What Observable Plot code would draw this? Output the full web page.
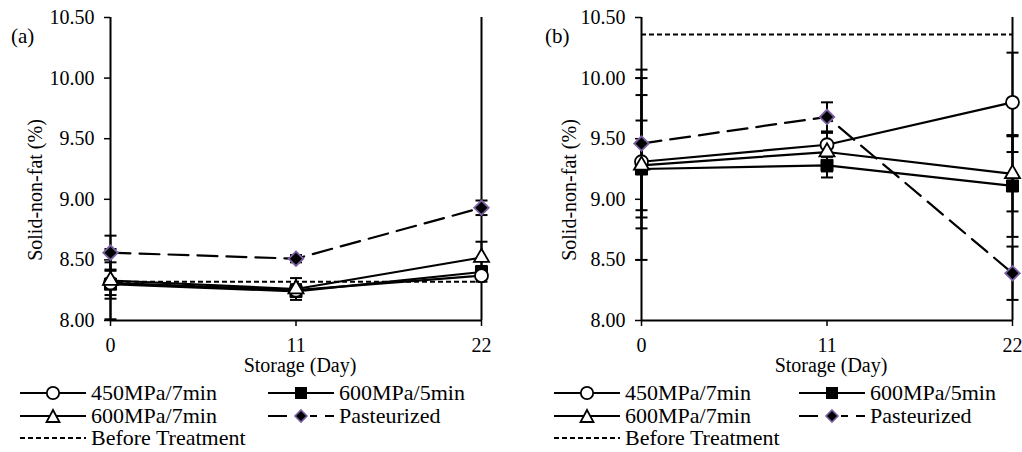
<!DOCTYPE html>
<html>
<head>
<meta charset="utf-8">
<script src="https://cdn.jsdelivr.net/npm/d3@7"></script>
<script src="https://cdn.jsdelivr.net/npm/@observablehq/plot@0.6"></script>
<style>
  body { margin: 0; background: #fff; }
  #wrap { position: relative; width: 1022px; height: 452px; overflow: hidden; font-family: "Liberation Serif", "Times New Roman", Tinos, serif; color: #000; }
  .panel { position: absolute; top: 0; }
  .plab { position: absolute; font-size: 21px; line-height: 1; }
  .leg { position: absolute; display: flex; align-items: center; font-size: 22px; line-height: 20px; height: 20px; white-space: nowrap; }
  .leg svg { display: block; margin-right: 5px; }
</style>
</head>
<body>
<div id="wrap"></div>
<script>
// ---------- data ----------
const days = [0, 11, 22];
const seriesNames = ["450MPa/7min", "600MPa/5min", "600MPa/7min", "Pasteurized"];
const yTicks = [8.00, 8.50, 9.00, 9.50, 10.00, 10.50];
const xTitle = "Storage (Day)";
const yTitle = "Solid-non-fat (%)";

// Panel (a)
const a_450_7 = [8.31, 8.25, 8.37];
const a_600_5 = [8.30, 8.24, 8.40];
const a_600_7 = [8.33, 8.26, 8.52];
const a_past  = [8.56, 8.51, 8.93];
const a_450_7_sd = [0.10, 0.05, 0.05];
const a_600_5_sd = [0.29, 0.04, 0.05];
const a_600_7_sd = [0.15, 0.09, 0.13];
const a_past_sd  = [0.14, 0.03, 0.06];
const a_before = 8.32;

// Panel (b)
const b_450_7 = [9.31, 9.45, 9.80];
const b_600_5 = [9.25, 9.28, 9.11];
const b_600_7 = [9.28, 9.39, 9.21];
const b_past  = [9.46, 9.68, 8.39];
const b_450_7_sd = [0.55, 0.10, 0.41];
const b_600_5_sd = [0.75, 0.10, 0.42];
const b_600_7_sd = [0.37, 0.16, 0.31];
const b_past_sd  = [0.61, 0.12, 0.22];
const b_before = 10.36;

const purple = "#7b62a3";
const FONT = "'Liberation Serif', 'Times New Roman', Tinos, serif";

function table(vals, sds) {
  const rows = [];
  seriesNames.forEach((s, i) => {
    days.forEach((d, j) => rows.push({series: s, day: d, v: vals[i][j], lo: vals[i][j] - sds[i][j], hi: vals[i][j] + sds[i][j]}));
  });
  return rows;
}

const capSymbol = {
  draw(ctx, size) { ctx.moveTo(-6, 0); ctx.lineTo(6, 0); }
};

function panel(vals, sds, before, mLeft, mRight, yDx) {
  const rows = table(vals, sds);
  const S = s => rows.filter(r => r.series === s);
  return Plot.plot({
    width: 511,
    height: 380,
    marginTop: 17,
    marginBottom: 60,
    marginLeft: mLeft,
    marginRight: mRight,
    style: {fontFamily: FONT, fontSize: "20px", color: "#000", background: "#fff", overflow: "visible"},
    x: {domain: [0, 22]},
    y: {domain: [8, 10.5]},
    marks: [
      Plot.axisX({ticks: days, tickFormat: d3.format("d"), tickSize: 6, tickPadding: 11, strokeWidth: 1.5, label: null, fontSize: 20}),
      Plot.axisY({ticks: yTicks, tickFormat: d3.format(".2f"), tickSize: 6, tickPadding: 10, strokeWidth: 1.5, label: null, fontSize: 20}),
      Plot.text([xTitle], {frameAnchor: "bottom", lineAnchor: "middle", textAnchor: "middle", dy: 45, dx: 4, fontSize: 20, fill: "#000"}),
      Plot.text([yTitle], {frameAnchor: "left", rotate: -90, textAnchor: "middle", lineAnchor: "middle", dx: yDx, dy: 21, fontSize: 20, fill: "#000"}),
      Plot.ruleY([before], {stroke: "#000", strokeWidth: 2, strokeDasharray: "5,3"}),
      Plot.ruleX([22], {stroke: "#000", strokeWidth: 2}),
      // error bars
      Plot.ruleX(rows, {x: "day", y1: "lo", y2: "hi", stroke: "#000", strokeWidth: 2}),
      Plot.dot(rows, {x: "day", y: "lo", symbol: capSymbol, stroke: "#000", strokeWidth: 2, fill: "none"}),
      Plot.dot(rows, {x: "day", y: "hi", symbol: capSymbol, stroke: "#000", strokeWidth: 2, fill: "none"}),
      // lines
      Plot.line(S("450MPa/7min"), {x: "day", y: "v", stroke: "#000", strokeWidth: 2.2}),
      Plot.line(S("600MPa/5min"), {x: "day", y: "v", stroke: "#000", strokeWidth: 2.2}),
      Plot.line(S("600MPa/7min"), {x: "day", y: "v", stroke: "#000", strokeWidth: 2.2}),
      Plot.line(S("Pasteurized"), {x: "day", y: "v", stroke: "#000", strokeWidth: 2.2, strokeDasharray: "20,9"}),
      // axis frame lines
      Plot.ruleX([0], {stroke: "#000", strokeWidth: 2}),
      Plot.ruleY([8], {stroke: "#000", strokeWidth: 2}),
      // markers
      Plot.dot(S("600MPa/5min"), {x: "day", y: "v", symbol: "square", r: 6.8, fill: "#000", stroke: "#000", strokeWidth: 1}),
      Plot.dot(S("450MPa/7min"), {x: "day", y: "v", symbol: "circle", r: 6.5, fill: "#fff", stroke: "#000", strokeWidth: 1.8}),
      Plot.dot(S("600MPa/7min"), {x: "day", y: "v", symbol: "triangle", r: 5.6, fill: "#fff", stroke: "#000", strokeWidth: 1.8}),
      Plot.dot(S("Pasteurized"), {x: "day", y: "v", symbol: "square", rotate: 45, r: 5.8, fill: "#000", stroke: purple, strokeWidth: 1.8})
    ]
  });
}

const wrap = document.getElementById("wrap");

const pa = panel([a_450_7, a_600_5, a_600_7, a_past], [a_450_7_sd, a_600_5_sd, a_600_7_sd, a_past_sd], a_before, 110, 30, -75);
pa.classList.add("panel"); pa.style.left = "0px";
wrap.appendChild(pa);
const pb = panel([b_450_7, b_600_5, b_600_7, b_past], [b_450_7_sd, b_600_5_sd, b_600_7_sd, b_past_sd], b_before, 130, 10, -72);
pb.classList.add("panel"); pb.style.left = "511px";
wrap.appendChild(pb);

function addText(cls, txt, x, y) {
  const d = document.createElement("div");
  d.className = cls; d.textContent = txt;
  d.style.left = x + "px"; d.style.top = y + "px";
  wrap.appendChild(d);
}
addText("plab", "(a)", 11, 26);
addText("plab", "(b)", 545, 26);

// legend
function legSym(kind) {
  const ns = "http://www.w3.org/2000/svg";
  const svg = document.createElementNS(ns, "svg");
  svg.setAttribute("width", 66); svg.setAttribute("height", 16);
  const line = document.createElementNS(ns, "line");
  line.setAttribute("x1", 0); line.setAttribute("x2", 66);
  line.setAttribute("y1", 8); line.setAttribute("y2", 8);
  line.setAttribute("stroke", "#000"); line.setAttribute("stroke-width", 2);
  if (kind === "past") line.setAttribute("stroke-dasharray", "19,23,7,8,9,50");
  if (kind === "before") line.setAttribute("stroke-dasharray", "5,3");
  svg.appendChild(line);
  let m = null;
  if (kind === "circle") {
    m = document.createElementNS(ns, "circle");
    m.setAttribute("cx", 33); m.setAttribute("cy", 8); m.setAttribute("r", 6.2);
    m.setAttribute("fill", "#fff"); m.setAttribute("stroke", "#000"); m.setAttribute("stroke-width", 1.8);
  } else if (kind === "square") {
    m = document.createElementNS(ns, "rect");
    m.setAttribute("x", 27); m.setAttribute("y", 2); m.setAttribute("width", 12); m.setAttribute("height", 12);
    m.setAttribute("fill", "#000");
  } else if (kind === "triangle") {
    m = document.createElementNS(ns, "path");
    m.setAttribute("d", "M33,2 L39.5,14 L26.5,14 Z");
    m.setAttribute("fill", "#fff"); m.setAttribute("stroke", "#000"); m.setAttribute("stroke-width", 1.8);
  } else if (kind === "past") {
    m = document.createElementNS(ns, "path");
    m.setAttribute("d", "M33,2 L39,8 L33,14 L27,8 Z");
    m.setAttribute("fill", "#000"); m.setAttribute("stroke", purple); m.setAttribute("stroke-width", 1.6);
  }
  if (m) svg.appendChild(m);
  return svg;
}
function addLeg(kind, txt, x, yc) {
  const d = document.createElement("div");
  d.className = "leg";
  d.style.left = x + "px"; d.style.top = (yc - 10) + "px";
  d.appendChild(legSym(kind));
  const s = document.createElement("span"); s.textContent = txt;
  d.appendChild(s);
  wrap.appendChild(d);
}
const legendKinds = ["circle", "square", "triangle", "past"];
[[20, 268], [554, 799]].forEach(([c1, c2]) => {
  addLeg(legendKinds[0], seriesNames[0], c1, 393);
  addLeg(legendKinds[1], seriesNames[1], c2, 393);
  addLeg(legendKinds[2], seriesNames[2], c1, 416);
  addLeg(legendKinds[3], seriesNames[3], c2, 416);
  addLeg("before", "Before Treatment", c1, 438);
});
</script>
</body>
</html>
